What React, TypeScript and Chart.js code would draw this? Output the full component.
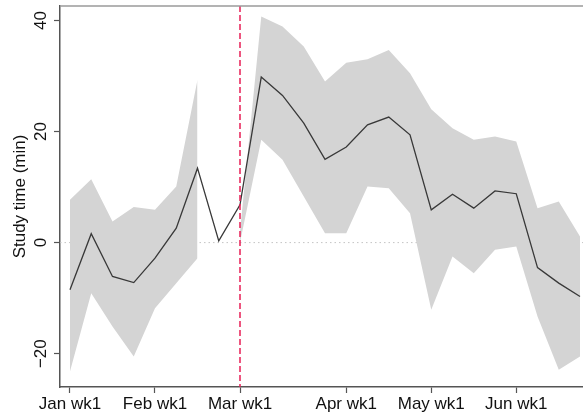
import React, { useEffect, useRef } from "react";
import { Chart, registerables } from "chart.js";

Chart.register(...registerables);

const weeks = [0, 1, 2, 3, 4, 5, 6, 7, 8, 9, 10, 11, 12, 13, 14, 15, 16, 17, 18, 19, 20, 21, 22, 23, 24];
const tickWeeks = [0, 4, 8, 13, 17, 21];
const tickLabels = ["Jan wk1", "Feb wk1", "Mar wk1", "Apr wk1", "May wk1", "Jun wk1"];
const yTicks = [-20, 0, 20, 40];
const meanTime = [-8.5, 1.6, -6.1, -7.2, -2.8, 2.6, 13.4, 0.3, 6.8, 29.8, 26.5, 21.5, 15.0, 17.2, 21.2, 22.6, 19.4, 5.9, 8.7, 6.2, 9.3, 8.8, -4.5, -7.3, -9.7];
const upperCI = [7.7, 11.4, 3.8, 6.4, 5.9, 10.1, 29.3, null, 2, 40.7, 38.9, 35.3, 29.0, 32.4, 33.0, 34.7, 30.5, 24, 20.6, 18.5, 19.1, 18.2, 6.2, 7.4, 1.1];
const lowerCI = [-23.2, -9.1, -15.1, -20.5, -11.8, -7.3, -2.8, null, 0, 18.5, 14.9, 8.3, 1.7, 1.7, 10.1, 9.8, 5.3, -12.1, -2.5, -5.5, -1.3, -0.7, -13.3, -22.9, -20.5];
const policyWeek = 8;
const yTitle = "Study time (min)";

const FONT = '"Liberation Sans", Arial, Helvetica, sans-serif';

export default function App() {
  const ref = useRef<HTMLCanvasElement>(null);

  useEffect(() => {
    const canvas = ref.current!;
    const toPts = (arr: (number | null)[]) => weeks.map((w, i) => ({ x: w, y: arr[i] }));

    const overlay = {
      id: "overlay",
      beforeDatasetsDraw(chart: any) {
        const { ctx, chartArea, scales } = chart;
        const y0 = scales.y.getPixelForValue(0);
        ctx.save();
        ctx.strokeStyle = "#c4c4c4";
        ctx.lineWidth = 1;
        ctx.setLineDash([1.5, 3]);
        ctx.beginPath();
        ctx.moveTo(chartArea.left, y0);
        ctx.lineTo(chartArea.right, y0);
        ctx.stroke();
        ctx.restore();
      },
      afterDatasetsDraw(chart: any) {
        const { ctx, chartArea, scales } = chart;
        const xp = scales.x.getPixelForValue(policyWeek);
        ctx.save();
        ctx.strokeStyle = "rgb(232,30,85)";
        ctx.lineWidth = 1.5;
        ctx.setLineDash([6, 3]);
        ctx.beginPath();
        ctx.moveTo(xp, chartArea.top);
        ctx.lineTo(xp, chartArea.bottom);
        ctx.stroke();
        ctx.setLineDash([]);
        ctx.strokeStyle = "#9a9a9a";
        ctx.lineWidth = 1.5;
        ctx.beginPath();
        ctx.moveTo(chartArea.left, chartArea.top);
        ctx.lineTo(chartArea.right, chartArea.top);
        ctx.stroke();
        ctx.restore();
      },
      afterDraw(chart: any) {
        const { ctx, chartArea, scales } = chart;
        ctx.save();
        ctx.fillStyle = "#111";
        ctx.font = `17px ${FONT}`;
        ctx.textAlign = "center";
        ctx.textBaseline = "middle";
        yTicks.forEach((v) => {
          const yp = scales.y.getPixelForValue(v);
          ctx.save();
          ctx.translate(41, yp);
          ctx.rotate(-Math.PI / 2);
          ctx.fillText(String(v).replace("-", "\u2212"), 0, 0);
          ctx.restore();
        });
        ctx.save();
        ctx.translate(20, (chartArea.top + chartArea.bottom) / 2);
        ctx.rotate(-Math.PI / 2);
        ctx.fillText(yTitle, 0, 0);
        ctx.restore();
        ctx.restore();
      },
    };

    const chart = new Chart(canvas, {
      type: "line",
      data: {
        datasets: [
          {
            label: "Mean",
            data: toPts(meanTime),
            borderColor: "#383838",
            borderWidth: 1.3,
            pointRadius: 0,
            fill: false,
            tension: 0,
          },
          {
            label: "Upper",
            data: toPts(upperCI),
            borderWidth: 0,
            borderColor: "rgba(0,0,0,0)",
            backgroundColor: "#d4d4d4",
            pointRadius: 0,
            fill: "+1",
            spanGaps: false,
            tension: 0,
          },
          {
            label: "Lower",
            data: toPts(lowerCI),
            borderWidth: 0,
            borderColor: "rgba(0,0,0,0)",
            pointRadius: 0,
            fill: false,
            spanGaps: false,
            tension: 0,
          },
        ],
      } as any,
      options: {
        responsive: false,
        animation: false,
        layout: { padding: { top: 6, left: 0, right: 0, bottom: 0 } },
        plugins: { legend: { display: false }, tooltip: { enabled: false } },
        scales: {
          x: {
            type: "linear",
            min: -0.47,
            max: 24.14,
            afterBuildTicks: (s: any) => {
              s.ticks = tickWeeks.map((v) => ({ value: v }));
            },
            afterFit: (s: any) => {
              s.height = 30;
            },
            ticks: {
              autoSkip: false,
              maxRotation: 0,
              minRotation: 0,
              padding: 1,
              color: "#111",
              font: { family: FONT, size: 17 },
              callback: (v: any) => {
                const i = tickWeeks.indexOf(Number(v));
                return i >= 0 ? tickLabels[i] : "";
              },
            },
            grid: { drawOnChartArea: false, drawTicks: true, tickLength: 6, tickColor: "#555", tickWidth: 1.2 },
            border: { display: true, color: "#555", width: 1.5 },
          },
          y: {
            type: "linear",
            min: -26,
            max: 42.6,
            afterBuildTicks: (s: any) => {
              s.ticks = yTicks.map((v) => ({ value: v }));
            },
            afterFit: (s: any) => {
              s.width = 60;
            },
            ticks: { display: false },
            grid: { drawOnChartArea: false, drawTicks: true, tickLength: 6, tickColor: "#555", tickWidth: 1.2 },
            border: { display: true, color: "#555", width: 1.5 },
          },
        },
      } as any,
      plugins: [overlay],
    });

    return () => chart.destroy();
  }, []);

  return (
    <div style={{ position: "fixed", left: 0, top: 0, width: 583, height: 417, background: "#fff" }}>
      <canvas ref={ref} width={583} height={417} style={{ display: "block" }} />
    </div>
  );
}
